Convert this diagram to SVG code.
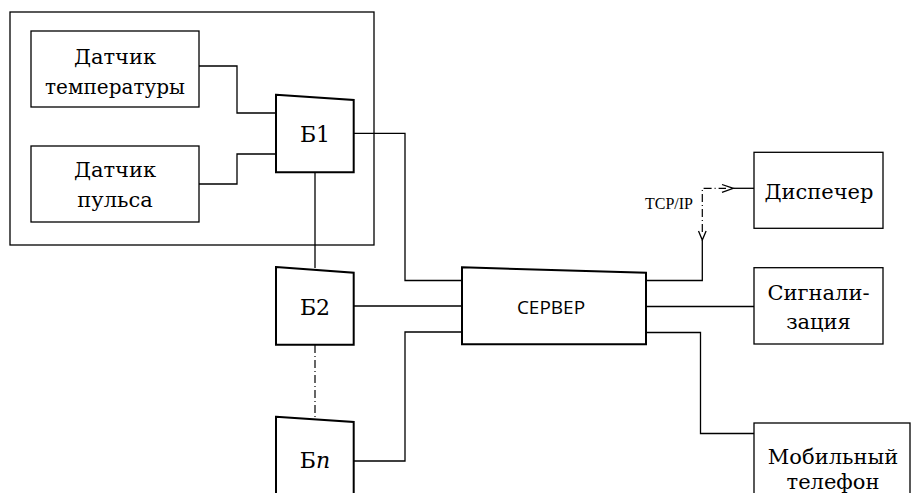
<svg xmlns="http://www.w3.org/2000/svg" width="911" height="493" viewBox="0 0 911 493">
<style>
.box{fill:#fff;stroke:#000;stroke-width:1.3}
.blk{fill:#fff;stroke:#000;stroke-width:2}
.ln{fill:none;stroke:#000;stroke-width:1.3}
.dd{fill:none;stroke:#000;stroke-width:1.2;stroke-dasharray:8 3 1 3}
.s{font-family:"Open Sans","Liberation Sans",sans-serif;font-size:19px;fill:#000;text-anchor:middle}
</style>
<rect width="911" height="493" fill="#fff"/>
<g id="outer"><rect class="box" x="10" y="12" width="364" height="233"/></g>
<g id="connectors">
<path class="ln" d="M199,66 H237 V113 H276"/>
<path class="ln" d="M199,184 H237 V154 H276"/>
<path class="ln" d="M354,133.3 H405 V280.5 H462"/>
<path class="ln" d="M315,172.5 V268"/>
<path class="ln" d="M354,306 H462"/>
<path class="dd" d="M315,345 V417"/>
<path class="ln" d="M354,461 H405 V332 H462"/>
<path class="ln" d="M646,280.5 H702.3 V240"/>
<path class="dd" d="M702.3,232 V188.3 H726"/>
<polyline class="ln" points="698.5,231 702.3,240 706.1,231"/>
<polyline class="ln" points="722,184.5 733.3,188.3 722,192.3"/>
<path class="ln" d="M733.3,188.3 H754"/>
<path class="ln" d="M646,306.5 H754"/>
<path class="ln" d="M646,332.5 H700.5 V433.5 H754"/>
</g>
<g font-family="'DejaVu Serif', 'Liberation Serif', serif" font-size="21" text-anchor="middle" fill="#000">
<g id="temp"><rect class="box" x="31" y="31" width="168" height="76"/>
<text x="115" y="64">Датчик</text><text x="115" y="94" textLength="140" lengthAdjust="spacingAndGlyphs">температуры</text></g>
<g id="pulse"><rect class="box" x="31" y="146" width="168" height="76"/>
<text x="115" y="177">Датчик</text><text x="115" y="207">пульса</text></g>
<g id="b1"><path class="blk" d="M276,94.7 L353.7,100 L353.7,172.3 L276,172.3 Z"/>
<text x="315" y="142" font-size="22">Б1</text></g>
<g id="b2"><path class="blk" d="M276,267 L353.7,272.7 L353.7,344.7 L276,344.7 Z"/>
<text x="315" y="315" font-size="22">Б2</text></g>
<g id="bn"><path class="blk" d="M276,416.7 L353.7,422 L353.7,500 L276,500 Z"/>
<text x="315" y="468" font-size="22">Б<tspan font-style="italic">n</tspan></text></g>
<g id="disp"><rect class="box" x="754" y="152.3" width="129" height="76"/>
<text x="819" y="199">Диспечер</text></g>
<g id="signal"><rect class="box" x="754" y="267.7" width="129" height="76.3"/>
<text x="818.5" y="300">Сигнали-</text><text x="818.5" y="329">зация</text></g>
<g id="mobile"><rect class="box" x="754" y="423" width="156" height="80"/>
<text x="833" y="464">Мобильный</text><text x="833" y="489">телефон</text></g>
<g id="tcp"><text x="693" y="208.5" font-size="16" font-family="Liberation Serif, serif" text-anchor="end">TCP/IP</text></g>
</g>
<g id="server"><path class="blk" d="M462,267.3 L646,272.7 L646,344.3 L462,344.3 Z"/>
<text class="s" x="551" y="314">СЕРВЕР</text></g>
</svg>
